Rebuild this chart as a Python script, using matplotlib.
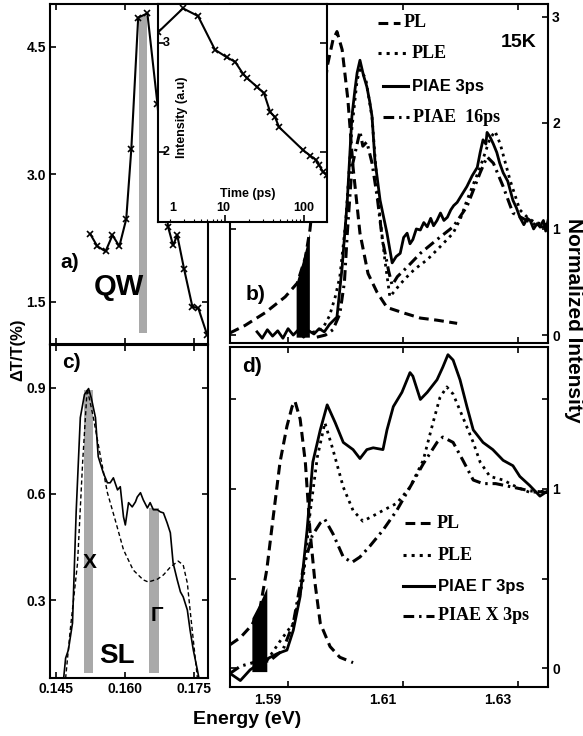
import numpy as np
import matplotlib
matplotlib.use('Agg')
import matplotlib.pyplot as plt
from matplotlib import transforms

plt.rcParams['font.family'] = ['Liberation Sans', 'DejaVu Sans']
plt.rcParams['font.weight'] = 'bold'
plt.rcParams['axes.linewidth'] = 1.5

SERIF = ['Liberation Serif', 'DejaVu Serif']

# ---------------- data ----------------
# a) QW pump-probe spectrum
a_energy = [0.1524, 0.1539, 0.1557, 0.1572, 0.1587, 0.1602, 0.1613, 0.1628, 0.1648,
            0.1670, 0.1693, 0.1704, 0.1713, 0.1728, 0.1746, 0.1759, 0.1778]
a_signal = [2.29, 2.15, 2.09, 2.28, 2.15, 2.47, 3.29, 4.84, 4.89,
            3.82, 2.38, 2.16, 2.28, 1.88, 1.44, 1.42, 1.11]
a_bar = (0.1630, 0.1648, 1.13, 4.86)          # x0, x1, y0, y1

# inset: intensity vs delay time
t_ps = [1.42, 2.94, 4.55, 7.47, 10.6, 13.4, 16.9, 19.0, 25.4, 31.2,
        37.2, 43.0, 48.3, 97.0, 119, 141, 155, 174, 195]
t_int = [3.10, 3.32, 3.25, 2.94, 2.87, 2.83, 2.72, 2.68, 2.60, 2.54,
         2.37, 2.32, 2.23, 2.02, 1.97, 1.93, 1.88, 1.82, 1.79]

# c) SL spectra
c_e_solid = [0.1465, 0.1470, 0.1476, 0.1485, 0.1493, 0.1502, 0.1511, 0.1520, 0.1526,
             0.1535, 0.1541, 0.1552, 0.1561, 0.1567, 0.1574, 0.1583, 0.1589, 0.1596,
             0.1600, 0.1607, 0.1615, 0.1622, 0.1626, 0.1633, 0.1639, 0.1648, 0.1654,
             0.1661, 0.1670, 0.1676, 0.1683, 0.1691, 0.1698, 0.1704, 0.1713, 0.1720,
             0.1726, 0.1735, 0.1741, 0.1748, 0.1757, 0.1763]
c_solid = [0.07, 0.136, 0.159, 0.235, 0.55, 0.815, 0.88, 0.897, 0.87,
           0.815, 0.705, 0.659, 0.631, 0.631, 0.645, 0.611, 0.620, 0.535,
           0.512, 0.575, 0.563, 0.577, 0.591, 0.603, 0.583, 0.560, 0.575,
           0.555, 0.555, 0.549, 0.546, 0.518, 0.490, 0.405, 0.357, 0.323,
           0.309, 0.272, 0.215, 0.159, 0.102, 0.06]
c_e_dash = [0.1470, 0.1480, 0.1496, 0.1507, 0.1517, 0.1530, 0.1546, 0.1561, 0.1578,
            0.1596, 0.1617, 0.1639, 0.1650, 0.1670, 0.1683, 0.1698, 0.1715, 0.1726,
            0.1735, 0.1741, 0.1748, 0.1757]
c_dash = [0.079, 0.215, 0.405, 0.688, 0.897, 0.818, 0.705, 0.603, 0.526,
          0.442, 0.385, 0.357, 0.351, 0.359, 0.371, 0.393, 0.410, 0.399,
          0.348, 0.272, 0.187, 0.079]
c_bars = [(0.1509, 0.1530, 0.093, 0.894), (0.1652, 0.1674, 0.093, 0.560)]

# b) QW normalized spectra
b_pl_e = [1.5799, 1.5825, 1.5860, 1.5895, 1.5916, 1.5930, 1.5938, 1.5956, 1.5968, 1.5978,
          1.5985, 1.5994, 1.6004, 1.6013, 1.6025, 1.6039, 1.6055, 1.6072, 1.6100, 1.6130,
          1.6159, 1.6194]
b_pl = [0.02, 0.09, 0.21, 0.36, 0.49, 0.73, 0.99, 1.91, 2.53, 2.78,
        2.86, 2.69, 2.22, 1.58, 0.96, 0.58, 0.40, 0.26, 0.21, 0.16,
        0.14, 0.11]
b_3ps_e = [1.5846, 1.5855, 1.5864, 1.5873, 1.5882, 1.5891, 1.5900, 1.5909, 1.5918, 1.5927,
           1.5936, 1.5945, 1.5954, 1.5963, 1.5972, 1.5985, 1.5994, 1.6003, 1.6011, 1.6016,
           1.6020, 1.6025, 1.6031, 1.6037, 1.6042, 1.6046, 1.6051, 1.6060, 1.6072, 1.6081,
           1.6088, 1.6095, 1.6101, 1.6107, 1.6112, 1.6117, 1.6123, 1.6130, 1.6136, 1.6142,
           1.6148, 1.6153, 1.6159, 1.6165, 1.6171, 1.6177, 1.6183, 1.6188, 1.6194, 1.6203,
           1.6211, 1.6220, 1.6229, 1.6234, 1.6239, 1.6244, 1.6246, 1.6251, 1.6257, 1.6263,
           1.6268, 1.6274, 1.6282, 1.6291, 1.6297, 1.6303, 1.6310, 1.6316, 1.6321, 1.6327,
           1.6333, 1.6338, 1.6344, 1.6348, 1.6352]
b_3ps = [0.03, -0.03, 0.05, -0.01, 0.04, -0.03, 0.06, 0.00, 0.05, -0.02,
         0.04, 0.01, 0.06, 0.03, 0.10, 0.17, 0.64, 1.27, 2.06, 2.30,
         2.47, 2.59, 2.45, 2.34, 2.20, 2.06, 1.65, 1.27, 0.96, 0.68,
         0.74, 0.77, 0.92, 0.96, 0.86, 0.90, 1.00, 0.99, 1.06, 1.02,
         1.10, 1.03, 1.08, 1.15, 1.08, 1.11, 1.18, 1.22, 1.25, 1.33,
         1.40, 1.50, 1.58, 1.72, 1.84, 1.80, 1.91, 1.87, 1.80, 1.72,
         1.62, 1.53, 1.45, 1.27, 1.20, 1.11, 1.04, 1.10, 1.08, 1.00,
         1.05, 1.02, 1.08, 0.98, 1.08]
b_ple_e = [1.5930, 1.5945, 1.5960, 1.5972, 1.5982, 1.5990, 1.6000, 1.6011, 1.6020, 1.6025,
           1.6035, 1.6046, 1.6053, 1.6060, 1.6068, 1.6077, 1.6086, 1.6095, 1.6107, 1.6120,
           1.6142, 1.6164, 1.6187, 1.6200, 1.6211, 1.6222, 1.6234, 1.6251, 1.6260, 1.6269,
           1.6286, 1.6303, 1.6318, 1.6330, 1.6352]
b_ple = [0.00, 0.03, 0.06, 0.18, 0.36, 0.55, 1.05, 1.95, 2.40, 2.50,
         2.42, 2.05, 1.55, 1.10, 0.72, 0.36, 0.42, 0.48, 0.55, 0.62,
         0.71, 0.83, 0.96, 1.10, 1.27, 1.42, 1.58, 1.85, 1.92, 1.80,
         1.46, 1.18, 1.10, 1.06, 1.04]
b_16ps_e = [1.5950, 1.5965, 1.5978, 1.5990, 1.5998, 1.6003, 1.6011, 1.6020, 1.6025, 1.6030,
            1.6037, 1.6046, 1.6055, 1.6064, 1.6075, 1.6081, 1.6090, 1.6107, 1.6130, 1.6159,
            1.6187, 1.6211, 1.6234, 1.6246, 1.6257, 1.6274, 1.6291, 1.6315, 1.6338, 1.6352]
b_16ps = [-0.02, 0.00, 0.05, 0.20, 0.50, 0.96, 1.58, 1.80, 1.92, 1.78,
          1.82, 1.62, 1.30, 0.90, 0.60, 0.47, 0.55, 0.64, 0.77, 0.90,
          1.02, 1.21, 1.53, 1.68, 1.62, 1.40, 1.15, 1.08, 1.02, 1.02]
b_fill_e = [1.5914, 1.5925, 1.5937]
b_fill_top = [0.49, 0.70, 0.96]

# d) SL normalized spectra
d_pl_e = [1.5799, 1.5817, 1.5837, 1.5851, 1.5863, 1.5874, 1.5886, 1.5898, 1.5907, 1.5912,
          1.5921, 1.5930, 1.5938, 1.5947, 1.5956, 1.5973, 1.5990, 1.6013]
d_pl = [0.13, 0.17, 0.24, 0.33, 0.55, 0.84, 1.15, 1.35, 1.46, 1.49,
        1.39, 1.15, 0.77, 0.47, 0.25, 0.12, 0.06, 0.03]
d_g_e = [1.5799, 1.5817, 1.5834, 1.5857, 1.5881, 1.5898, 1.5909, 1.5921, 1.5933, 1.5943,
         1.5956, 1.5968, 1.5982, 1.5996, 1.6013, 1.6025, 1.6037, 1.6048, 1.6065, 1.6072,
         1.6083, 1.6098, 1.6112, 1.6117, 1.6130, 1.6142, 1.6159, 1.6169, 1.6178, 1.6187,
         1.6199, 1.6211, 1.6222, 1.6239, 1.6256, 1.6274, 1.6291, 1.6303, 1.6320, 1.6338,
         1.6352]
d_gamma = [-0.03, -0.07, -0.01, 0.04, 0.08, 0.10, 0.21, 0.40, 0.77, 1.15,
           1.33, 1.47, 1.37, 1.26, 1.22, 1.17, 1.22, 1.23, 1.22, 1.33,
           1.46, 1.54, 1.65, 1.63, 1.50, 1.54, 1.61, 1.68, 1.75, 1.72,
           1.61, 1.46, 1.33, 1.26, 1.22, 1.16, 1.13, 1.07, 1.02, 0.96,
           0.99]
d_ple_e = [1.5863, 1.5886, 1.5909, 1.5926, 1.5938, 1.5951, 1.5964, 1.5978, 1.5996, 1.6013,
           1.6030, 1.6048, 1.6065, 1.6089, 1.6112, 1.6135, 1.6152, 1.6164, 1.6176, 1.6187,
           1.6204, 1.6222, 1.6234, 1.6251, 1.6274, 1.6298, 1.6321, 1.6352]
d_ple = [0.04, 0.15, 0.25, 0.49, 0.86, 1.18, 1.37, 1.22, 1.01, 0.88,
         0.82, 0.85, 0.88, 0.92, 1.01, 1.16, 1.37, 1.51, 1.57, 1.53,
         1.40, 1.26, 1.15, 1.07, 1.05, 1.01, 0.98, 0.99]
d_x_e = [1.5799, 1.5817, 1.5839, 1.5868, 1.5891, 1.5909, 1.5926, 1.5942, 1.5956, 1.5964,
         1.5978, 1.5996, 1.6011, 1.6025, 1.6042, 1.6065, 1.6089, 1.6112, 1.6135, 1.6159,
         1.6169, 1.6187, 1.6204, 1.6222, 1.6239, 1.6261, 1.6291, 1.6320, 1.6352]
d_x = [-0.03, 0.01, 0.03, 0.04, 0.10, 0.25, 0.55, 0.74, 0.81, 0.83,
       0.75, 0.62, 0.59, 0.62, 0.68, 0.77, 0.88, 1.01, 1.14, 1.26,
       1.29, 1.26, 1.16, 1.05, 1.03, 1.03, 1.01, 0.99, 0.98]
d_fill_e = [1.5837, 1.5850, 1.5863]
d_fill_top = [0.28, 0.36, 0.45]

# ---------------- figure ----------------
W, H = 583, 736
fig = plt.figure(figsize=(W / 100, H / 100), dpi=100)


def box(x0, y0, x1, y1):
    return [x0 / W, 1 - y1 / H, (x1 - x0) / W, (y1 - y0) / H]


def style(ax):
    ax.tick_params(direction='in', top=True, right=True, length=4, width=1.2,
                   labelsize=10, pad=3)
    for s in ax.spines.values():
        s.set_linewidth(1.5)


GRAY = '#a9a9a9'
DASH = (0, (3.2, 1.8))
DASHDOT = (0, (3.5, 1.6, 0.8, 1.6))

# panel a
ax_a = fig.add_axes(box(50, 4, 208, 344))
style(ax_a)
x0, x1, y0, y1 = a_bar
ax_a.bar((x0 + x1) / 2, y1 - y0, width=x1 - x0, bottom=y0, color=GRAY, lw=0)
ax_a.plot(a_energy, a_signal, color='k', lw=1.5, marker='x', ms=4, mew=1.2)
ax_a.set_xlim(0.1436, 0.1780)
ax_a.set_ylim(1.0, 5.0)
ax_a.set_xticks([0.145, 0.160, 0.175])
ax_a.set_xticklabels([])
ax_a.set_yticks([1.5, 3.0, 4.5])
ax_a.set_yticklabels(['1.5', '3.0', '4.5'])
ax_a.text(0.127, 0.241, 'a)', transform=ax_a.transAxes, fontsize=15, ha='center', va='center')
ax_a.text(0.437, 0.168, 'QW', transform=ax_a.transAxes, fontsize=21, ha='center', va='center')

# panel c
ax_c = fig.add_axes(box(50, 345, 208, 678))
style(ax_c)
for x0, x1, y0, y1 in c_bars:
    ax_c.bar((x0 + x1) / 2, y1 - y0, width=x1 - x0, bottom=y0, color=GRAY, lw=0)
ax_c.plot(c_e_solid, c_solid, color='k', lw=1.2)
ax_c.plot(c_e_dash, c_dash, color='k', lw=1.0, ls=(0, (3, 2)))
ax_c.set_xlim(0.1436, 0.1780)
ax_c.set_ylim(0.08, 1.02)
ax_c.set_xticks([0.145, 0.160, 0.175])
ax_c.set_xticklabels(['0.145', '0.160', '0.175'])
ax_c.set_yticks([0.3, 0.6, 0.9])
ax_c.set_yticklabels(['0.3', '0.6', '0.9'])
ax_c.text(0.133, 0.946, 'c)', transform=ax_c.transAxes, fontsize=15, ha='center', va='center')
ax_c.text(0.253, 0.348, 'X', transform=ax_c.transAxes, fontsize=15, ha='center', va='center')
ax_c.text(0.677, 0.189, 'Γ', transform=ax_c.transAxes, fontsize=15, ha='center', va='center')
ax_c.text(0.424, 0.066, 'SL', transform=ax_c.transAxes, fontsize=20, ha='center', va='center')

# panel b
ax_b = fig.add_axes(box(230, 4, 548, 343))
style(ax_b)
ax_b.fill_between(b_fill_e, -0.02, b_fill_top, color='k', lw=0)
ax_b.plot(b_pl_e, b_pl, color='k', lw=2.2, ls=DASH)
ax_b.plot(b_ple_e, b_ple, color='k', lw=2.0, ls=':')
ax_b.plot(b_3ps_e, b_3ps, color='k', lw=2.0)
ax_b.plot(b_16ps_e, b_16ps, color='k', lw=2.2, ls=DASHDOT)
ax_b.set_xlim(1.5799, 1.6352)
ax_b.set_ylim(-0.075, 3.12)
ax_b.set_xticks([1.59, 1.61, 1.63])
ax_b.set_yticks([0, 1, 2, 3])
ax_b.tick_params(labelbottom=False, labelleft=False, labelright=True)

# panel d
ax_d = fig.add_axes(box(230, 347, 548, 687))
style(ax_d)
ax_d.fill_between(d_fill_e, -0.02, d_fill_top, color='k', lw=0)
ax_d.plot(d_pl_e, d_pl, color='k', lw=2.2, ls=DASH)
ax_d.plot(d_ple_e, d_ple, color='k', lw=2.0, ls=':')
ax_d.plot(d_g_e, d_gamma, color='k', lw=2.0)
ax_d.plot(d_x_e, d_x, color='k', lw=2.2, ls=DASHDOT)
ax_d.set_xlim(1.5799, 1.6352)
ax_d.set_ylim(-0.106, 1.793)
ax_d.set_xticks([1.59, 1.61, 1.63])
ax_d.set_yticks([0, 0.5, 1, 1.5])
ax_d.set_yticklabels(['0', '', '1', ''])
ax_d.tick_params(labelbottom=False, labelleft=False, labelright=True)
# tick labels sit a little left of their ticks in the original
tr = transforms.blended_transform_factory(ax_d.transData, ax_d.transAxes) + \
    transforms.ScaledTranslation(-0.2, 0, fig.dpi_scale_trans)
for v in [1.59, 1.61, 1.63]:
    ax_d.text(v, -0.017, f'{v:.2f}', transform=tr, fontsize=10, ha='center', va='top')

# legends drawn as in the original
def legend(ax, rows):
    for (lx0, lx1, ly, ls, label, fam) in rows:
        ax.plot([lx0, lx1], [ly, ly], color='k', lw=2.2, ls=ls, transform=ax.transAxes)
        ax.text(lx1 + 0.012, ly, label, transform=ax.transAxes, va='center', ha='left',
                fontsize=13 if fam is SERIF else 12, family=fam)


legend(ax_b, [(0.465, 0.535, 0.944, DASH, 'PL', SERIF),
              (0.465, 0.560, 0.855, ':', 'PLE', SERIF),
              (0.481, 0.560, 0.757, '-', 'PIAE 3ps', None),
              (0.481, 0.563, 0.666, DASHDOT, 'PIAE  16ps', SERIF)])
ax_b.text(0.909, 0.885, '15K', transform=ax_b.transAxes, fontsize=14, ha='center', va='center')
ax_b.text(0.079, 0.142, 'b)', transform=ax_b.transAxes, fontsize=15, ha='center', va='center')

legend(ax_d, [(0.550, 0.638, 0.482, DASH, 'PL', SERIF),
              (0.544, 0.642, 0.388, ':', 'PLE', SERIF),
              (0.544, 0.642, 0.297, '-', 'PIAE Γ 3ps', None),
              (0.544, 0.642, 0.209, DASHDOT, 'PIAE X 3ps', SERIF)])
ax_d.text(0.069, 0.944, 'd)', transform=ax_d.transAxes, fontsize=15, ha='center', va='center')

# inset
ax_in = fig.add_axes(box(158, 4, 327, 222), zorder=5)
ax_in.set_facecolor('white')
ax_in.plot(t_ps, t_int, color='k', lw=1.5, marker='x', ms=4, mew=1.2)
ax_in.set_xscale('log')
ax_in.set_xlim(1.42, 195)
ax_in.set_ylim(1.36, 3.36)
ax_in.set_yticks([2, 3])
ax_in.tick_params(axis='both', which='major', direction='in', length=5, width=1.2,
                  right=True, labelleft=False, labelbottom=False)
ax_in.tick_params(axis='x', which='minor', direction='in', length=2.5, width=0.8)
for s in ax_in.spines.values():
    s.set_linewidth(1.5)
ax_in.text(0.03, 0.82, '3', transform=ax_in.transAxes, fontsize=9, va='center')
ax_in.text(0.03, 0.32, '2', transform=ax_in.transAxes, fontsize=9, va='center')
ax_in.text(0.14, 0.48, 'Intensity (a.u)', transform=ax_in.transAxes, fontsize=9,
           rotation=90, ha='center', va='center')
ax_in.text(0.53, 0.13, 'Time (ps)', transform=ax_in.transAxes, fontsize=9,
           ha='center', va='center')
for xa, lab in [(0.09, '1'), (0.385, '10'), (0.86, '100')]:
    ax_in.text(xa, 0.064, lab, transform=ax_in.transAxes, fontsize=9,
               ha='center', va='center')

# shared labels
fig.text(18 / W, 1 - 350 / H, 'ΔT/T(%)', rotation=90, fontsize=12, ha='center', va='center')
fig.text(574 / W, 1 - 320 / H, 'Normalized Intensity', rotation=-90, fontsize=15,
         ha='center', va='center')
fig.text(247 / W, 1 - 720 / H, 'Energy (eV)', fontsize=14, ha='center', va='center')

fig.savefig('out.png', dpi=100)
